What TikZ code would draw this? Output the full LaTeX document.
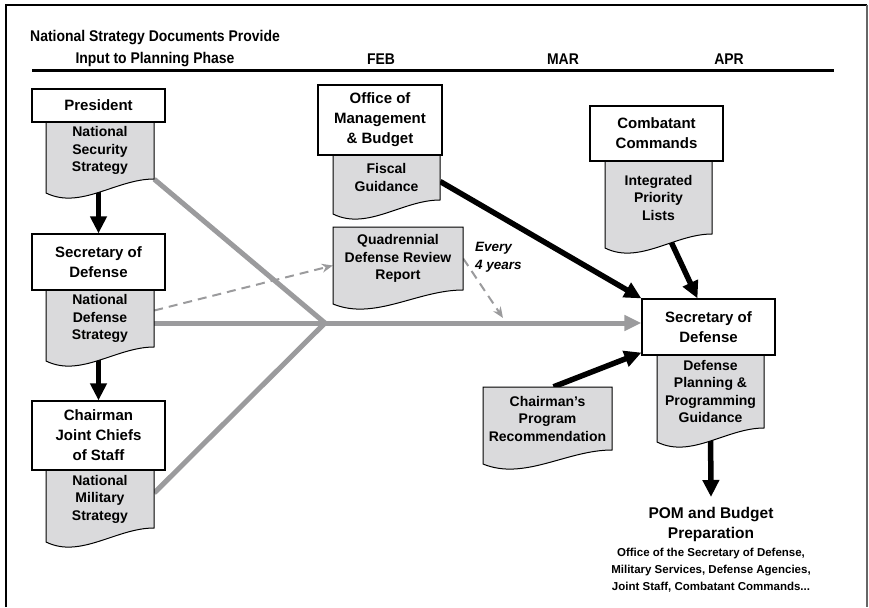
\documentclass[tikz,border=0pt]{standalone}
\usepackage{fontspec}
\setmainfont{Liberation Sans}
\newfontfamily\condfont{Liberation Sans}[FakeStretch=0.9]
\usetikzlibrary{arrows.meta,backgrounds}

\definecolor{docgray}{RGB}{218,218,220}
\definecolor{linegray}{RGB}{155,155,157}

% 文档形状: 名字, x1, x2, 上边, 右下角, 文字
\newcommand{\docpage}[6]{%
  \path[docline] (#2,#4) -- (#3,#4) -- (#3,#5)
    .. controls ({#3-0.35*(#3-#2)},#5) and ({#2+0.32*(#3-#2)},#5+31) .. (#2,#5+14) -- cycle;
  \node[doctext, minimum width={#3-#2}, minimum height={#5-#4}] (#1) at ({(#2+#3)/2},{(#4+#5)/2}) {#6};
}

\begin{document}
\begin{tikzpicture}[
    x=1pt, y=-1pt,
    orgbox/.style={draw, fill=white, line width=1.2pt, align=center, inner sep=0pt,
      font=\fontsize{15}{20}\selectfont\bfseries},
    doctext/.style={align=center, inner sep=0pt, font=\fontsize{14}{17.5}\selectfont\bfseries},
    docline/.style={draw=black, fill=docgray, line width=1pt},
    hdr/.style={inner sep=0pt, align=center, font=\fontsize{15.5}{21.5}\selectfont\condfont\bfseries},
    feed/.style={line width=5.5pt, -{Triangle[length=17pt,width=16pt]}}, % 箭头样式
    grayline/.style={line width=5pt, draw=linegray, line join=miter},
    grayfeed/.style={grayline, -{Triangle[length=17pt,width=15pt]}},
    hint/.style={line width=2pt, draw=linegray, dash pattern=on 9pt off 6pt,
      -{Stealth[length=11pt,width=9pt]}}
]
    \useasboundingbox (0,0) rectangle (869,607);
    \draw[line width=2.6pt] (6,607) -- (6,5) -- (867,5);
    \draw[line width=1.6pt, black!60] (867,5) -- (867,607);

    \node[hdr] (title) at (155,48.5) {National Strategy Documents Provide\\Input to Planning Phase};
    \node[hdr] (feb) at (381,59) {FEB};
    \node[hdr] (mar) at (563,59) {MAR};
    \node[hdr] (apr) at (729,59) {APR};
    \draw[line width=3pt] (32,70.5) -- (834,70.5);

    \docpage{nss}{46}{154}{122}{179}{National\\Security\\Strategy}
    \docpage{nds}{46}{154}{290}{347}{National\\Defense\\Strategy}
    \docpage{nms}{46}{154}{470}{528}{National\\Military\\Strategy}
    \docpage{fg}{333}{440}{155}{200}{Fiscal\\Guidance}
    \docpage{qdr}{333}{463}{227}{290}{Quadrennial\\Defense Review\\Report}
    \docpage{ipl}{605}{712}{161}{234}{Integrated\\Priority\\Lists}
    \docpage{dppg}{657}{764}{355}{428}{Defense\\Planning \&\\Programming\\Guidance}
    \docpage{cpr}{483}{612}{387}{450}{Chairman's\\Program\\Recommendation}

    \node[orgbox, minimum width=133, minimum height=33] (pres) at (98.5,105.5) {President};
    \node[orgbox, minimum width=133, minimum height=56] (sod1) at (98.5,262) {Secretary of\\Defense};
    \node[orgbox, minimum width=133, minimum height=69] (cjcs) at (98.5,435.5) {Chairman\\Joint Chiefs\\of Staff};
    \node[orgbox, minimum width=124, minimum height=70] (omb) at (380,120) {Office of\\Management\\\& Budget};
    \node[orgbox, minimum width=133, minimum height=55] (cc) at (656.5,133.5) {Combatant\\Commands};
    \node[orgbox, minimum width=133, minimum height=56] (sod2) at (708.5,327) {Secretary of\\Defense};

    \node[inner sep=0pt, align=left, anchor=north west, font=\fontsize{13.5}{18}\selectfont\bfseries\itshape]
        (every) at (475,242) {Every\\4 years};
    \node[inner sep=0pt, align=center, anchor=north, font=\fontsize{15.5}{20}\selectfont\bfseries]
        (pom) at (711,507) {POM and Budget\\Preparation};
    \node[inner sep=0pt, align=center, anchor=north, font=\fontsize{11.5}{17}\selectfont\bfseries]
        (pomsub) at (711,548) {Office of the Secretary of Defense,\\Military Services, Defense Agencies,\\Joint Staff, Combatant Commands...};

    \coordinate (junc) at (325,323);
    \coordinate (qdrhit) at (503,318);

    \begin{pgfonlayer}{background}
        \draw[grayline] (nss.south east) -- (junc) -- ([yshift=6pt]nms.east);
        \draw[grayfeed] (nds.east |- junc) -- (junc -| sod2.west);
        \draw[hint] ([yshift=8pt]nds.east) -- ([yshift=-7pt]qdr.west);
        \draw[hint] (qdr.east) -- (qdrhit);
        \draw[feed] (nss.south -| sod1.north) -- (sod1.north);
        \draw[feed] (nds.south -| cjcs.north) -- (cjcs.north);
        \draw[feed] ([yshift=-4pt]fg.east) -- (sod2.north west);
        \draw[feed] ([xshift=9pt]ipl.south) -- ([xshift=-11pt]sod2.north);
        \draw[feed] ([xshift=6pt]cpr.north) -- ([yshift=3pt]sod2.south west);
        \draw[feed] (dppg.south) -- ([yshift=10pt]pom.north);
    \end{pgfonlayer}
\end{tikzpicture}
\end{document}
